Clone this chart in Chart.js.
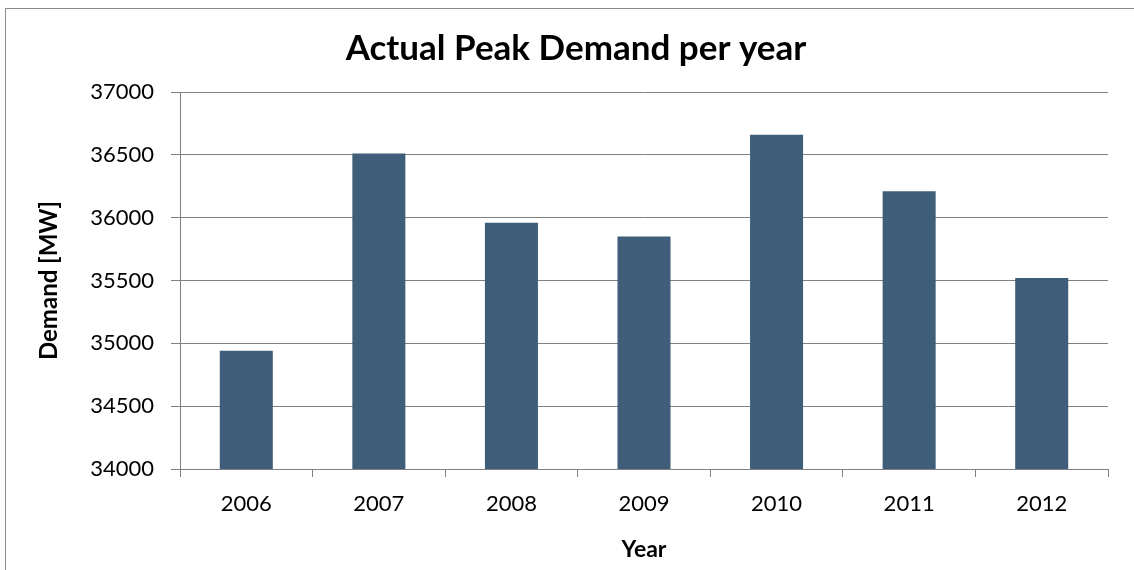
<!DOCTYPE html>
<html>
<head>
<meta charset="utf-8">
<script src="https://cdn.jsdelivr.net/npm/chart.js@4/dist/chart.umd.min.js"></script>
<style>
  html, body { margin: 0; padding: 0; background: #fff; overflow: hidden; width: 1134px; height: 570px; }
  #frame { position: absolute; left: 5px; top: 8px; width: 1200px; height: 600px; border: 1px solid #8c8c8c; }
  #peakChart { position: absolute; left: 0; top: 0; }
</style>
</head>
<body>
<div id="frame">
  <canvas id="peakChart" width="1140" height="561"></canvas>
</div>
<script>
var years = ['2006', '2007', '2008', '2009', '2010', '2011', '2012'];
var peakDemand = [34940, 36510, 35960, 35850, 36660, 36210, 35520];
var demandTicks = [34000, 34500, 35000, 35500, 36000, 36500, 37000];

var fontFamily = "Lato, 'Open Sans', sans-serif";

//-------------
//- BAR CHART -
//-------------
var peakCanvas = document.getElementById('peakChart').getContext('2d');

var peakData = {
  labels: years,
  datasets: [
    {
      label: 'Actual Peak Demand',
      backgroundColor: '#3e5e79',
      borderColor: '#3e5e79',
      borderWidth: 0,
      barPercentage: 0.4,
      categoryPercentage: 1.0,
      data: peakDemand
    }
  ]
};

var peakOptions = {
  responsive: false,
  animation: false,
  layout: {
    padding: { left: 0, right: 0, top: 0, bottom: 0 }
  },
  plugins: {
    legend: { display: false },
    tooltip: { enabled: false },
    title: {
      display: true,
      text: 'Actual Peak Demand per year',
      color: '#000',
      font: { family: fontFamily, size: 35, weight: 'bold', lineHeight: 1.2 },
      padding: { top: 19, bottom: 22 }
    }
  },
  scales: {
    x: {
      grid: {
        display: true,
        offset: true,
        drawOnChartArea: false,
        drawTicks: true,
        tickLength: 8,
        color: '#808080',
        lineWidth: 1
      },
      border: { display: true, color: '#808080', width: 1 },
      ticks: {
        color: '#000',
        padding: 14,
        font: { family: fontFamily, size: 22 }
      },
      title: {
        display: true,
        text: 'Year',
        color: '#000',
        font: { family: fontFamily, size: 23, weight: 'bold', lineHeight: 1.2 },
        padding: { top: 0, bottom: 7 }
      },
      afterFit: function (scale) {
        scale.height = 101;
      }
    },
    y: {
      min: demandTicks[0],
      max: demandTicks[demandTicks.length - 1],
      afterBuildTicks: function (scale) {
        scale.ticks = demandTicks.map(function (v) { return { value: v }; });
      },
      grid: {
        display: true,
        drawTicks: true,
        tickLength: 9,
        color: '#808080',
        lineWidth: 1
      },
      border: { display: true, color: '#808080', width: 1 },
      ticks: {
        color: '#000',
        padding: 17,
        font: { family: fontFamily, size: 22 },
        callback: function (value) {
          return String(value);
        }
      },
      title: {
        display: true,
        text: 'Demand [MW]',
        color: '#000',
        font: { family: fontFamily, size: 24, weight: 'bold', lineHeight: 1.2 },
        padding: { top: 29, bottom: 0 }
      },
      afterFit: function (scale) {
        scale.width = 174;
      }
    },
    // empty axis on the right, only keeps room so the title centres like the original
    spacer: {
      type: 'linear',
      position: 'right',
      display: true,
      grid: { display: false },
      border: { display: false },
      ticks: { display: false },
      afterFit: function (scale) {
        scale.width = 38;
      }
    }
  }
};

var peakChart = new Chart(peakCanvas, {
  type: 'bar',
  data: peakData,
  options: peakOptions
});
</script>
</body>
</html>
